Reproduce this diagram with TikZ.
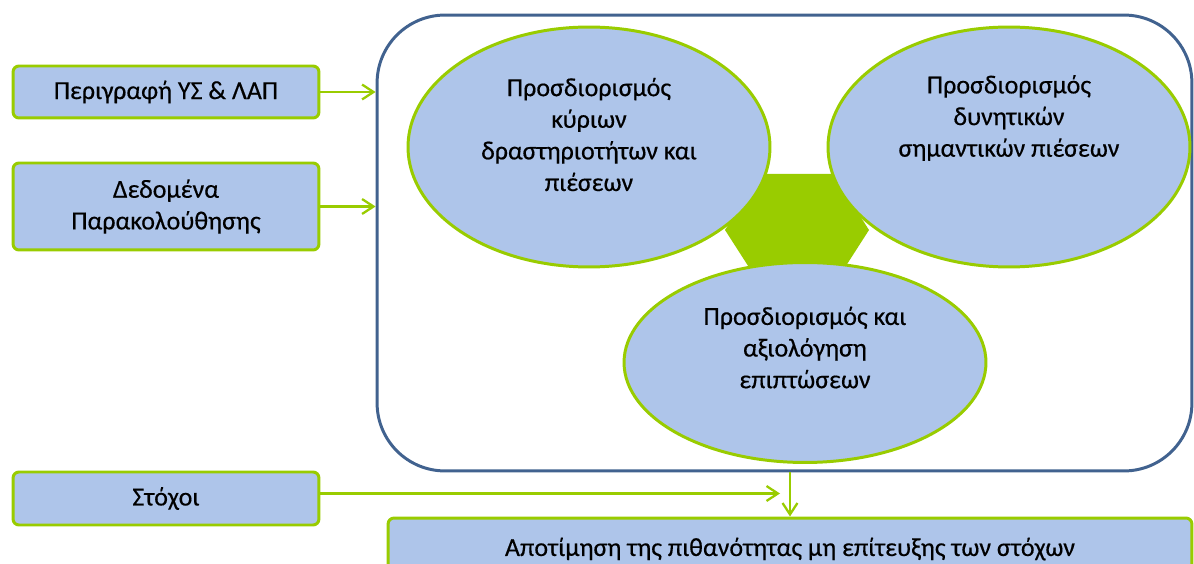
\documentclass[tikz,border=0pt]{standalone}
\usepackage{fontspec}
\setmainfont{Carlito}[FakeBold=0.4]
\usetikzlibrary{shapes.geometric}
\usetikzlibrary{arrows.meta}
\definecolor{boxblue}{RGB}{174,197,234}
\definecolor{leafgreen}{RGB}{153,204,0}
\definecolor{frameblue}{RGB}{65,98,143}

\begin{document}
\begin{tikzpicture}[x=0.02cm, y=-0.02cm,
  font=\fontsize{14.8}{18}\selectfont,
  inbox/.style={draw=leafgreen, line width=1.7pt, fill=boxblue, rounded corners=0.12cm,
    minimum width=6.12cm, align=center, inner sep=0pt},
  bubble/.style={ellipse, draw=leafgreen, line width=1.7pt, fill=boxblue,
    minimum width=7.24cm, minimum height=4.8cm, inner sep=0pt},
  txt/.style={align=center, inner sep=0pt},
  arr/.style={draw=leafgreen, line width=1.3pt, -{Straight Barb[length=6.5pt,width=8.5pt]}}]

\useasboundingbox (0,0) rectangle (1194,564);
\clip (0,0) rectangle (1194,564);

% inputs
\node[inbox, minimum height=1.04cm] (perigrafi) at (166,92) {Περιγραφή ΥΣ \& ΛΑΠ};
\node[inbox, minimum height=1.74cm] (dedomena) at (166,206.5) {Δεδομένα\\Παρακολούθησης};
\node[inbox, minimum height=1.06cm] (stoxoi) at (166,498.5) {Στόχοι};

% frame
\node[draw=frameblue, line width=1.7pt, rounded corners=1.36cm,
  minimum width=16.3cm, minimum height=9.12cm] (plaisio) at (784.5,243) {};

% hexagon behind the bubbles
\fill[leafgreen] (725,230) -- (761,174) -- (833,174) -- (869,230) -- (833,286) -- (761,286) -- cycle;

% bubbles
\node[bubble] (kyries) at (589,147) {};
\node[bubble] (dynitikes) at (1009,147) {};
\node[bubble, minimum height=4cm] (epiptoseis) at (805,362.5) {};

\node[txt] (kyriestxt) at ([yshift=0.25cm]kyries.center)
  {Προσδιορισμός\\κύριων\\δραστηριοτήτων και\\πιέσεων};
\node[txt] (dynitikestxt) at ([yshift=0.58cm]dynitikes.center)
  {Προσδιορισμός\\δυνητικών\\σημαντικών πιέσεων};
\node[txt] (epiptoseistxt) at ([yshift=0.3cm]epiptoseis.center)
  {Προσδιορισμός και\\αξιολόγηση\\επιπτώσεων};

% result
\node[inbox, minimum width=16.08cm, minimum height=1.24cm] (apotimisi) at (790,549)
  {Αποτίμηση της πιθανότητας μη επίτευξης των στόχων};

% arrows
\draw[arr] (perigrafi.east) -- (perigrafi.east -| plaisio.west);
\draw[arr] (dedomena.east) -- (dedomena.east -| plaisio.west);
\draw[arr] (plaisio.south -| apotimisi.north) -- (apotimisi.north);
\draw[arr] ([yshift=0.1cm]stoxoi.east) -- ([xshift=-0.2cm,yshift=0.1cm]stoxoi.east -| apotimisi.north);

\end{tikzpicture}
\end{document}
